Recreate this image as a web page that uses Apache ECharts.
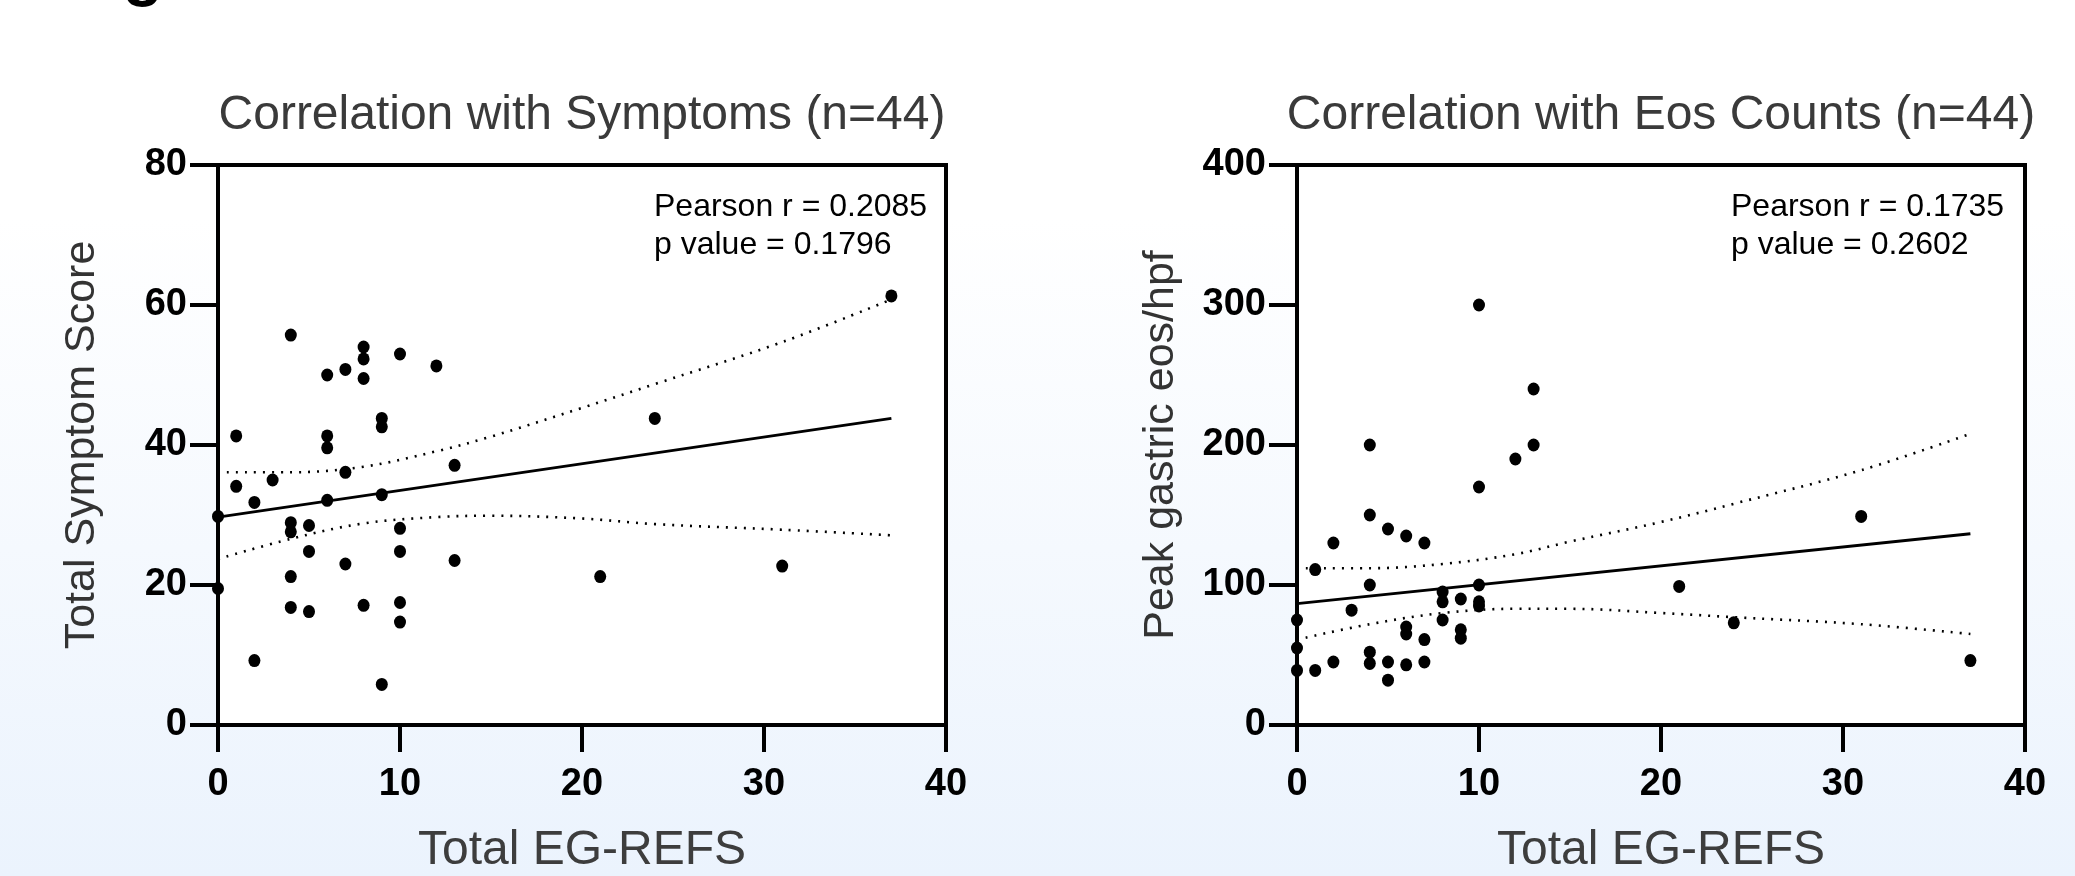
<!DOCTYPE html>
<html>
<head>
<meta charset="utf-8">
<script src="https://cdn.jsdelivr.net/npm/echarts@6/dist/echarts.min.js"></script>
<style>
html,body{margin:0;padding:0;width:2075px;height:876px;overflow:hidden;}
#chart{width:2075px;height:876px;}
</style>
</head>
<body>
<div id="chart"></div>
<script>
// ---- data ----
const xTicks = [0, 10, 20, 30, 40];
const symTicks = [0, 20, 40, 60, 80];
const eosTicks = [0, 100, 200, 300, 400];

const refsSym = [4,8,8,10,12,6,7,8,9,9,1,6,6,7,13,1,3,2,6,9,0,0,4,4,5,10,5,10,7,13,4,4,5,8,10,10,2,9,37,24,21,31];
const symScore = [55.7,54,52.3,53,51.3,50,50.8,49.5,43.8,42.6,41.3,41.3,39.6,36.1,37.1,34.1,35,31.8,32.1,32.9,29.8,19.5,28.9,27.6,28.5,28.1,24.8,24.8,23,23.5,21.2,16.8,16.2,17.1,17.5,14.7,9.2,5.8,61.3,43.8,21.2,22.7];

const refsEos = [10,13,13,4,12,10,4,5,6,7,2,1,4,10,8,8,9,10,10,3,0,8,6,6,9,9,7,0,4,0,1,2,4,5,6,7,5,31,21,24,37];
const eosCount = [300,240,200,200,190,170,150,140,135,130,130,111,100,100,95,88,90,88,85,82,75,75,70,65,68,62,61,55,52,39,39,45,44,45,43,45,32,149,99,73,46];

const fitX = [0, 37];
const symFit = [29.7, 43.8];
const eosFit = [86.7, 136.6];

const bandX = [0, 4, 8, 12, 15, 20, 24, 31, 37];
const symUpper = [36.1, 36.1, 36.9, 39.1, 41.2, 45.3, 48.7, 54.7, 60.8];
const symLower = [23.7, 26.6, 28.8, 29.7, 29.9, 29.5, 28.7, 27.9, 27.1];
const eosUpper = [112, 112, 115, 122, 131, 145, 158, 182, 208];
const eosLower = [61, 72, 80, 83, 83, 80, 77, 72, 65];

const titles = ['Correlation with Symptoms (n=44)', 'Correlation with Eos Counts (n=44)'];
const statsText = [['Pearson r = 0.2085', 'p value = 0.1796'], ['Pearson r = 0.1735', 'p value = 0.2602']];
const xName = 'Total EG-REFS';
const yNames = ['Total Symptom Score', 'Peak gastric eos/hpf'];

// ---- chart ----
const zip = (a, b) => a.map((v, i) => [v, b[i]]);
const sans = "'Liberation Sans',Arial,Helvetica,sans-serif";

const gridW = 728, gridH = 560, gridTop = 165;
const gridLefts = [218, 1297];

function xAxisOf(i) {
  return {
    type: 'value', gridIndex: i, min: xTicks[0], max: xTicks[xTicks.length - 1], interval: xTicks[1] - xTicks[0],
    axisLine: { show: true, onZero: false, lineStyle: { color: '#000', width: 4 } },
    axisTick: { show: true, length: 27, lineStyle: { color: '#000', width: 4 } },
    axisLabel: { color: '#000', fontSize: 38, fontWeight: 'bold', fontFamily: sans, margin: 41 },
    splitLine: { show: false },
    name: xName, nameLocation: 'middle', nameGap: 102,
    nameTextStyle: { fontSize: 48, color: '#3d3d3d', fontFamily: sans }
  };
}
function yAxisOf(i, ticks) {
  return {
    type: 'value', gridIndex: i, min: ticks[0], max: ticks[ticks.length - 1], interval: ticks[1] - ticks[0],
    axisLine: { show: true, onZero: false, lineStyle: { color: '#000', width: 4 } },
    axisTick: { show: true, length: 28, lineStyle: { color: '#000', width: 4 } },
    axisLabel: { color: '#000', fontSize: 38, fontWeight: 'bold', fontFamily: sans, margin: 31 },
    splitLine: { show: false },
    name: yNames[i], nameLocation: 'middle', nameGap: 114,
    nameTextStyle: { fontSize: 43, color: '#333', fontFamily: sans }
  };
}
function scatter(i, xs, ys) {
  return { type: 'scatter', xAxisIndex: i, yAxisIndex: i, data: zip(xs, ys), symbol: 'circle', symbolSize: [12, 13],
    itemStyle: { color: '#000', opacity: 1 }, z: 5, silent: true };
}
function line(i, xs, ys, dotted) {
  return { type: 'line', xAxisIndex: i, yAxisIndex: i, data: zip(xs, ys), showSymbol: false, symbol: 'none',
    smooth: dotted ? 0.35 : false,
    lineStyle: dotted ? { color: '#000', width: 2.6, type: [2, 7] } : { color: '#000', width: 2.8 },
    z: 3, silent: true };
}

const graphic = [];
titles.forEach((t, i) => {
  graphic.push({ type: 'text', x: gridLefts[i] + gridW / 2, y: 116, silent: true,
    style: { text: t, textAlign: 'center', textVerticalAlign: 'middle', fontSize: 48, fontFamily: sans, fill: '#3a3a3a' } });
});
const statsX = [654, 1731];
statsText.forEach((lines, i) => {
  lines.forEach((s, j) => {
    graphic.push({ type: 'text', x: statsX[i], y: 207 + j * 38.5, silent: true,
      style: { text: s, textAlign: 'left', textVerticalAlign: 'middle', fontSize: 32, fontFamily: sans, fill: '#000' } });
  });
});
graphic.push({ type: 'text', x: 143, y: 8, silent: true,
  style: { text: 'g', textAlign: 'center', textVerticalAlign: 'bottom', fontSize: 66, fontWeight: 'bold', fontFamily: sans, fill: '#000' } });

const option = {
  animation: false,
  backgroundColor: { type: 'linear', x: 0, y: 0, x2: 0, y2: 1,
    colorStops: [{ offset: 0, color: '#ffffff' }, { offset: 0.25, color: '#ffffff' }, { offset: 1, color: '#ebf3fd' }] },
  grid: gridLefts.map(l => ({ left: l, top: gridTop, width: gridW, height: gridH, show: true,
    backgroundColor: '#ffffff', borderColor: '#000', borderWidth: 4, containLabel: false, outerBoundsMode: 'none' })),
  xAxis: [xAxisOf(0), xAxisOf(1)],
  yAxis: [yAxisOf(0, symTicks), yAxisOf(1, eosTicks)],
  series: [
    line(0, bandX, symUpper, true), line(0, bandX, symLower, true), line(0, fitX, symFit, false),
    scatter(0, refsSym, symScore),
    line(1, bandX, eosUpper, true), line(1, bandX, eosLower, true), line(1, fitX, eosFit, false),
    scatter(1, refsEos, eosCount)
  ],
  graphic: graphic
};
const chart = echarts.init(document.getElementById('chart'), null, { renderer: 'canvas' });
chart.setOption(option);
</script>
</body>
</html>
